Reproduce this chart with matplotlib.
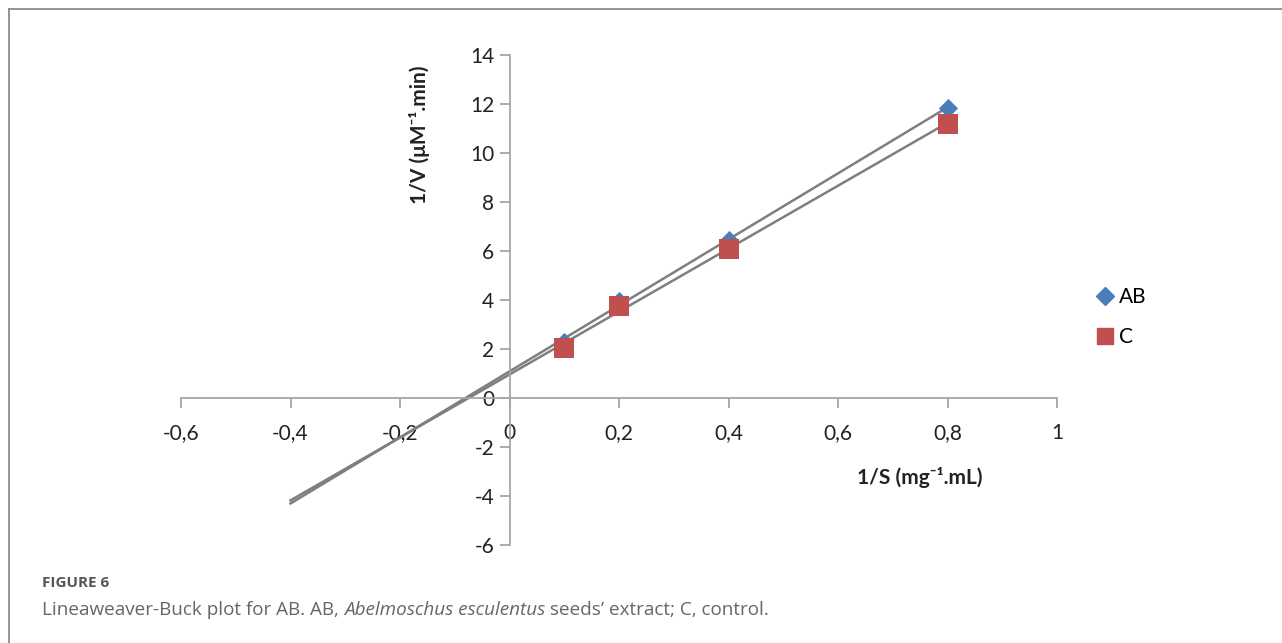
import numpy as np
import matplotlib
matplotlib.use("Agg")
import matplotlib.pyplot as plt
from matplotlib.lines import Line2D

# Data
inv_s = [0.1, 0.2, 0.4, 0.8]
ab_inv_v = [2.3, 3.95, 6.45, 11.85]
c_inv_v = [2.05, 3.75, 6.1, 11.2]
series_names = ["AB", "C"]
x_ticks = [-0.6, -0.4, -0.2, 0, 0.2, 0.4, 0.6, 0.8, 1.0]
y_ticks = [-6, -4, -2, 0, 2, 4, 6, 8, 10, 12, 14]
trend_start = -0.4

plt.rcParams['font.family'] = ['Lato', 'DejaVu Sans']

fig = plt.figure(figsize=(12.82, 6.43), dpi=100)
ax = fig.add_axes([181/1282, 1-545/643, (1057-181)/1282, (545-55)/643])

axis_col = '#a6a6a6'
blue = '#4a7ebb'
red = '#c0504d'

# Trend lines
for yv in (ab_inv_v, c_inv_v):
    k, b = np.polyfit(inv_s, yv, 1)
    xs = np.array([trend_start, max(inv_s)])
    ax.plot(xs, k*xs + b, color='#7f7f7f', lw=1.8, zorder=2)

ax.scatter(inv_s, ab_inv_v, marker='D', s=95, color=blue, zorder=3, linewidths=0)
ax.scatter(inv_s, c_inv_v, marker='s', s=190, color=red, zorder=3, linewidths=0)

ax.set_xlim(-0.6, 1.0)
ax.set_ylim(-6, 14)
for s in ('top', 'right'):
    ax.spines[s].set_visible(False)
ax.spines['left'].set_position(('data', 0))
ax.spines['bottom'].set_position(('data', 0))
for s in ('left', 'bottom'):
    ax.spines[s].set_color(axis_col)
    ax.spines[s].set_linewidth(1.3)

ax.set_xticks(x_ticks)
ax.set_yticks(y_ticks)
ax.set_xticklabels([('0' if v == 0 else ('1' if v == 1 else f"{v:.1f}".replace('.', ','))) for v in x_ticks])
ax.set_yticklabels([str(v) for v in y_ticks])
ax.tick_params(axis='both', colors=axis_col, labelcolor='#222222', labelsize=15,
               length=7, width=1.3, direction='out')
ax.tick_params(axis='x', pad=11)
ax.tick_params(axis='y', pad=4)
ax.patch.set_alpha(0)

fig.text(420/1282, 1-135/643, '1/V (μM⁻¹.min)', rotation=90, ha='center', va='center',
         fontsize=15, fontweight='bold', color='#222222')
fig.text(920/1282, 1-478/643, '1/S (mg⁻¹.mL)', ha='center', va='center',
         fontsize=15, fontweight='bold', color='#222222')

# Legend
handles = [Line2D([], [], marker='D', color=blue, ls='', markersize=9),
           Line2D([], [], marker='s', color=red, ls='', markersize=12)]
leg = fig.legend(handles, series_names, loc='center left', bbox_to_anchor=(1086/1282, 1-317/643),
                 frameon=False, fontsize=15, handletextpad=0.2, labelspacing=0.95,
                 handlelength=1.0, borderaxespad=0)

# Frame lines
fig.add_artist(Line2D([9/1282, 9/1282], [0, 1-9/643], color='#8c8c8c', lw=1.3, transform=fig.transFigure))
fig.add_artist(Line2D([9/1282, 1], [1-9/643, 1-9/643], color='#8c8c8c', lw=1.3, transform=fig.transFigure))

# Caption
cap_font = ['Open Sans', 'DejaVu Sans']
fig.text(42/1282, 1-583/643, 'FIGURE 6', fontsize=11, color='#555555', va='center', ha='left',
         family=cap_font, fontweight='bold')
pieces = [('Lineaweaver-Buck plot for AB. AB, ', 'normal'),
          ('Abelmoschus esculentus', 'italic'),
          (' seeds’ extract; C, control.', 'normal')]
fig.canvas.draw()
renderer = fig.canvas.get_renderer()
xpos = 42
for txt, style in pieces:
    t = fig.text(xpos/1282, 1-610/643, txt, fontsize=13.6, color='#666666', va='center', ha='left',
                 family=cap_font, style=style)
    bb = t.get_window_extent(renderer=renderer)
    xpos += bb.width

fig.savefig('out.png', dpi=100, facecolor='white')
